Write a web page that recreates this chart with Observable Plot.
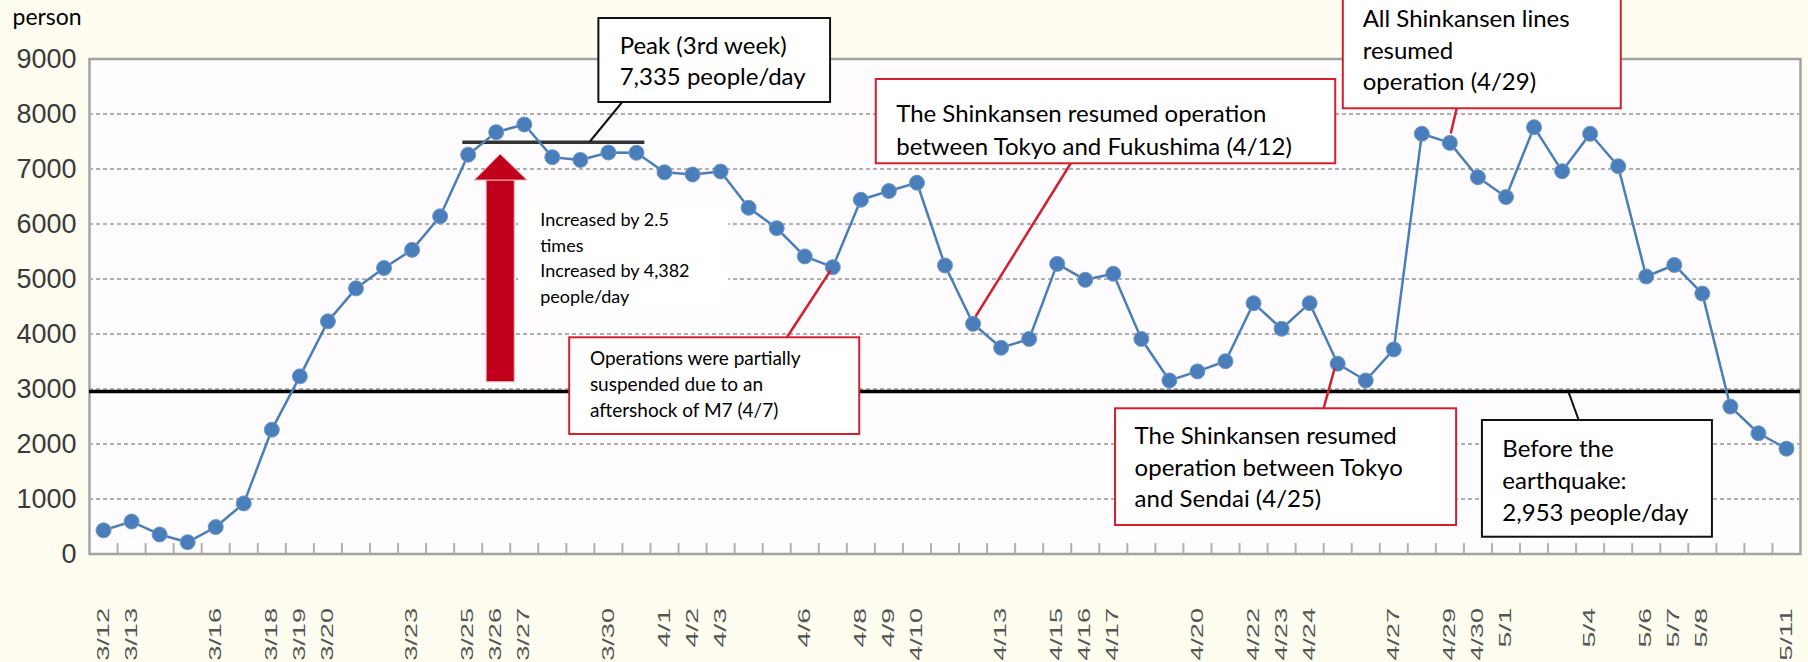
<!DOCTYPE html>
<html><head><meta charset="utf-8">
<script src="https://cdn.jsdelivr.net/npm/d3@7"></script>
<script src="https://cdn.jsdelivr.net/npm/@observablehq/plot@0.6"></script>
<style>
html,body{margin:0;padding:0;background:#fefdf0;}
#chart{width:1808px;height:662px;overflow:hidden;}
</style></head><body><div id="chart"></div>
<script>
// ---- data ----
const dates = ["3/12","3/13","3/14","3/15","3/16","3/17","3/18","3/19","3/20","3/21","3/22","3/23","3/24","3/25","3/26","3/27","3/28","3/29","3/30","3/31",
  "4/1","4/2","4/3","4/4","4/5","4/6","4/7","4/8","4/9","4/10","4/11","4/12","4/13","4/14","4/15","4/16","4/17","4/18","4/19","4/20",
  "4/21","4/22","4/23","4/24","4/25","4/26","4/27","4/28","4/29","4/30","5/1","5/2","5/3","5/4","5/5","5/6","5/7","5/8","5/9","5/10","5/11"];
const riders = [430,590,355,215,490,920,2260,3230,4230,4830,5200,5530,6140,7260,7670,7810,7215,7165,7300,7295,
  6940,6900,6955,6295,5925,5410,5215,6440,6600,6750,5245,4185,3750,3910,5275,4985,5095,3910,3155,3320,
  3505,4560,4095,4560,3460,3155,3720,7640,7475,6850,6490,7760,6960,7640,7050,5045,5255,4735,2680,2195,1915];
const shownLabels = ["3/12","3/13","3/16","3/18","3/19","3/20","3/23","3/25","3/26","3/27","3/30","4/1","4/2","4/3","4/6","4/8","4/9","4/10",
  "4/13","4/15","4/16","4/17","4/20","4/22","4/23","4/24","4/27","4/29","4/30","5/1","5/4","5/6","5/7","5/8","5/11"];
const yTicks = [0,1000,2000,3000,4000,5000,6000,7000,8000,9000];
const gridTicks = [1000,2000,3000,4000,5000,6000,7000,8000];
const preQuakeLevel = 2953;
const yLabel = "person";

// ---- annotations (in data units: x = day index, y = persons) ----
const peakBar = [{x1:12.81, x2:19.3, y:7487}];
const arrowShaft = [{x1:13.66, x2:14.66, y1:3124, y2:6791}];
const arrowHead = [{x:13.24, y:6791},{x:14.16, y:7264},{x:15.11, y:6791}];
const blackBoxes = [
  {x1:17.66, x2:25.92, y1:8209, y2:9736},
  {x1:49.16, x2:57.36, y1:305, y2:2427}
];
const redBoxes = [
  {x1:16.62, x2:26.96, y1:2173, y2:3931},
  {x1:27.55, x2:43.93, y1:7095, y2:8627},
  {x1:44.2, x2:54.11, y1:8095, y2:10300},
  {x1:36.08, x2:48.24, y1:518, y2:2640}
];
const plainBoxes = [{x1:14.80, x2:22.29, y1:4427, y2:6396}];
const bigNotes = [
  {x:18.40, y:9480, text:"Peak (3rd week)\n7,335 people/day", lh:1.275, fs:24},
  {x:28.26, y:8276, text:"The Shinkansen resumed operation\nbetween Tokyo and Fukushima (4/12)", lh:1.36, fs:24},
  {x:44.89, y:9992, text:"All Shinkansen lines\nresumed\noperation (4/29)", lh:1.32, fs:24},
  {x:36.76, y:2408, text:"The Shinkansen resumed\noperation between Tokyo\nand Sendai (4/25)", lh:1.32, fs:24},
  {x:49.87, y:2164, text:"Before the\nearthquake:\n2,953 people/day", lh:1.32, fs:24}
];
const smallNotes = [
  {x:15.57, y:6290, text:"Increased by 2.5\ntimes\nIncreased by 4,382\npeople/day", lh:1.42, fs:18},
  {x:17.34, y:3780, text:"Operations were partially\nsuspended due to an\naftershock of M7 (4/7)", lh:1.38, fs:19}
];
const blackLinks = [
  {x1:17.34, y1:7500, x2:18.48, y2:8209},
  {x1:52.59, y1:2440, x2:52.23, y2:2942}
];
const redLinks = [
  {x1:24.36, y1:3936, x2:25.92, y2:5155},
  {x1:34.48, y1:7100, x2:31.09, y2:4318},
  {x1:48.24, y1:8100, x2:48.03, y2:7645},
  {x1:43.5, y1:2651, x2:43.89, y2:3373}
];

const rows = dates.map((d, i) => ({i, date: d, value: riders[i]}));
const labelIdx = shownLabels.map(s => dates.indexOf(s));
const boundaries = dates.slice(1).map((d, i) => i + 0.5);

const RED = "#d2202c";
const ANN = "Lato, 'Open Sans', sans-serif";

const noteMark = n => Plot.text([n], {x: "x", y: "y", text: "text", textAnchor: "start", lineAnchor: "top",
  lineHeight: n.lh, fontSize: n.fs, fill: "#000"});

const chart = Plot.plot({
  width: 1808, height: 662,
  marginLeft: 89, marginRight: 8, marginTop: 58.5, marginBottom: 108.5,
  style: {background: "transparent", fontFamily: ANN, overflow: "visible"},
  x: {domain: [-0.5, dates.length - 0.5]},
  y: {domain: [0, 9000]},
  marks: [
    Plot.frame({fill: "#fefcfe", stroke: "#a3a3a3", strokeWidth: 2.5}),
    Plot.gridY(gridTicks, {stroke: "#b0b0b0", strokeOpacity: 1, strokeWidth: 2, strokeDasharray: "4,3"}),
    Plot.ruleY([preQuakeLevel], {stroke: "#000", strokeWidth: 3.5}),
    Plot.ruleX(boundaries, {y1: 0, y2: 190, stroke: "#b0b0b0", strokeWidth: 2}),
    Plot.axisY(yTicks, {tickSize: 0, tickPadding: 13, tickFormat: d => String(d), fontSize: 27,
      fontFamily: "Liberation Sans", fill: "#3a3a3a"}),
    Plot.axisX(labelIdx, {tickFormat: i => dates[i], tickRotate: -90, tickSize: 0, tickPadding: 54,
      fontSize: 16, fontFamily: "Liberation Sans", fill: "#555"}),
    Plot.text([yLabel], {frameAnchor: "top-left", dx: -77, dy: -50, textAnchor: "start", lineAnchor: "top",
      fontSize: 23, fill: "#000"}),
    Plot.ruleY(peakBar, {x1: "x1", x2: "x2", y: "y", stroke: "#333", strokeWidth: 3.5}),
    Plot.line(rows, {x: "i", y: "value", stroke: "#4a7ebb", strokeWidth: 2.5}),
    Plot.dot(rows, {x: "i", y: "value", r: 7.5, fill: "#4a7ebb", stroke: "#6d98cc", strokeWidth: 1}),
    Plot.rect(arrowShaft, {x1: "x1", x2: "x2", y1: "y1", y2: "y2", fill: "#c0001a", stroke: "#eab0b6", strokeWidth: 1}),
    Plot.areaY(arrowHead, {x: "x", y1: 6791, y2: "y", fill: "#c0001a", stroke: "#eab0b6", strokeWidth: 1}),
    Plot.rect(plainBoxes, {x1: "x1", x2: "x2", y1: "y1", y2: "y2", fill: "white"}),
    Plot.rect(blackBoxes, {x1: "x1", x2: "x2", y1: "y1", y2: "y2", fill: "white", stroke: "#111", strokeWidth: 2}),
    Plot.rect(redBoxes, {x1: "x1", x2: "x2", y1: "y1", y2: "y2", fill: "white", stroke: RED, strokeWidth: 2}),
    Plot.link(blackLinks, {x1: "x1", y1: "y1", x2: "x2", y2: "y2", stroke: "#111", strokeWidth: 2}),
    Plot.link(redLinks, {x1: "x1", y1: "y1", x2: "x2", y2: "y2", stroke: RED, strokeWidth: 2.5}),
    ...bigNotes.map(noteMark),
    ...smallNotes.map(noteMark)
  ]
});
document.getElementById("chart").appendChild(chart);
// stretch the rotated date labels like the original
d3.select(chart).selectAll('[aria-label="x-axis tick label"] text').each(function() {
  const t = this.textContent;
  this.setAttribute("textLength", t.length * 13.2);
  this.setAttribute("lengthAdjust", "spacingAndGlyphs");
});
</script></body></html>
